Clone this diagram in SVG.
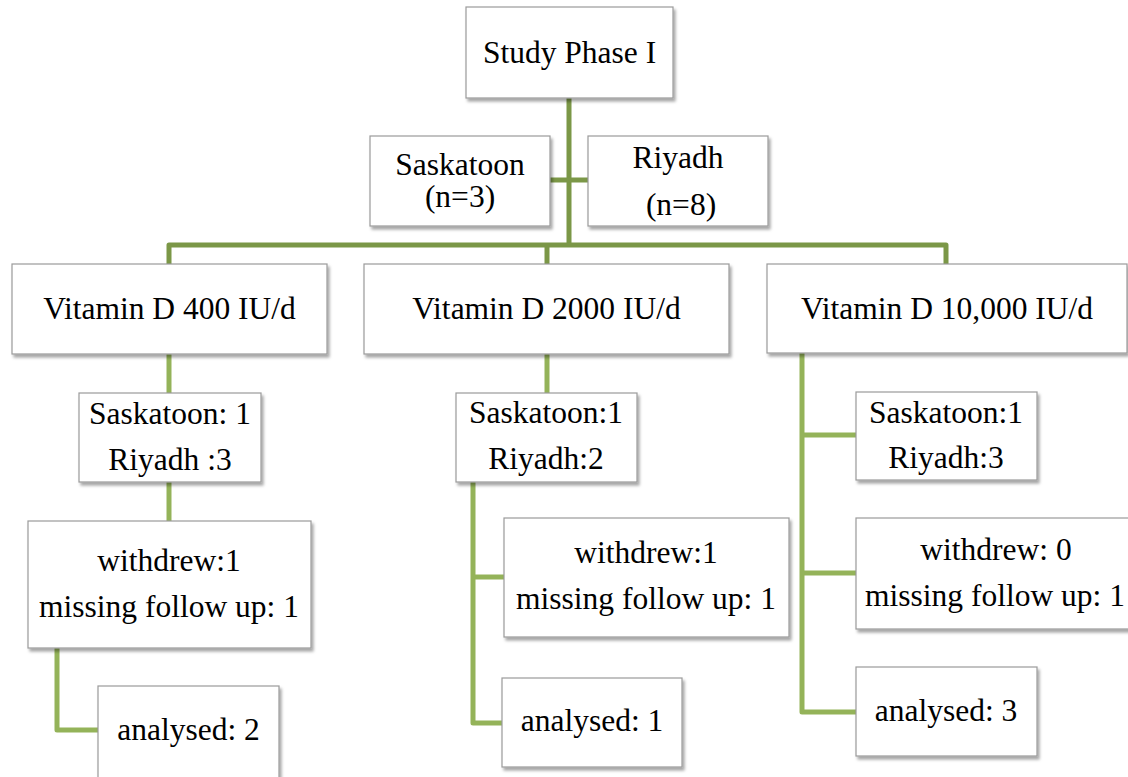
<svg xmlns="http://www.w3.org/2000/svg" width="1128" height="777" viewBox="0 0 1128 777">
<defs>
<filter id="sh" x="-10%" y="-10%" width="130%" height="140%">
<feDropShadow dx="2" dy="3" stdDeviation="1.8" flood-color="#000" flood-opacity="0.35"/>
</filter>
<style>
.box{fill:#fff;stroke:#9a9a9a;stroke-width:1.2;filter:url(#sh)}
.t{font-family:"Liberation Serif","Times New Roman",serif;font-size:31.5px;fill:#000;text-anchor:middle}
.c1{fill:none;stroke:#7b9747;stroke-width:5;stroke-linejoin:round}
.c2{fill:none;stroke:#94b359;stroke-width:5;stroke-linejoin:round}
</style>
</defs>
<rect width="1128" height="777" fill="#fff"/>
<g id="connectors">
<path class="c1" d="M569,98 V245"/>
<path class="c1" d="M550,180 H588"/>
<path class="c1" d="M169,264 V245 H946 V264"/>
<path class="c1" d="M547,245 V264"/>
<path class="c2" d="M169,354 V393"/>
<path class="c2" d="M169,482 V521"/>
<path class="c2" d="M57,648 V730 H98"/>
<path class="c2" d="M547,354 V393"/>
<path class="c2" d="M473,482 V723 H502"/>
<path class="c2" d="M473,577 H504"/>
<path class="c2" d="M802,353 V712 H856"/>
<path class="c2" d="M802,435 H856"/>
<path class="c2" d="M802,573 H856"/>
</g>
<g id="study"><rect class="box" x="466" y="7" width="207" height="91"/><text class="t" x="569.5" y="63">Study Phase I</text></g>
<g id="saskatoon"><rect class="box" x="370" y="136" width="180" height="90"/><text class="t" x="460" y="175">Saskatoon</text><text class="t" x="460" y="207">(n=3)</text></g>
<g id="riyadh"><rect class="box" x="588" y="136" width="180" height="90"/><text class="t" x="678" y="168">Riyadh</text><text class="t" x="681" y="215">(n=8)</text></g>
<g id="vd400"><rect class="box" x="12" y="264" width="315" height="90"/><text class="t" x="169.5" y="319">Vitamin D 400 IU/d</text></g>
<g id="vd2000"><rect class="box" x="364" y="264" width="365" height="90"/><text class="t" x="546.5" y="319">Vitamin D 2000 IU/d</text></g>
<g id="vd10000"><rect class="box" x="767" y="264" width="360" height="89"/><text class="t" x="947" y="319">Vitamin D 10,000 IU/d</text></g>
<g id="site400"><rect class="box" x="79" y="393" width="182" height="89"/><text class="t" x="170" y="424">Saskatoon: 1</text><text class="t" x="170" y="470">Riyadh :3</text></g>
<g id="site2000"><rect class="box" x="456" y="393" width="181" height="89"/><text class="t" x="546" y="423">Saskatoon:1</text><text class="t" x="546" y="469">Riyadh:2</text></g>
<g id="site10000"><rect class="box" x="856" y="392" width="181" height="88"/><text class="t" x="946" y="423">Saskatoon:1</text><text class="t" x="946" y="468">Riyadh:3</text></g>
<g id="wd400"><rect class="box" x="28" y="521" width="283" height="127"/><text class="t" x="169" y="571">withdrew:1</text><text class="t" x="169" y="617">missing follow up: 1</text></g>
<g id="wd2000"><rect class="box" x="504" y="518" width="285" height="119"/><text class="t" x="646" y="563">withdrew:1</text><text class="t" x="646" y="609">missing follow up: 1</text></g>
<g id="wd10000"><rect class="box" x="856" y="518" width="280" height="111"/><text class="t" x="996" y="560">withdrew: 0</text><text class="t" x="995" y="606">missing follow up: 1</text></g>
<g id="an400"><rect class="box" x="98" y="686" width="181" height="92"/><text class="t" x="188.5" y="740">analysed: 2</text></g>
<g id="an2000"><rect class="box" x="502" y="678" width="180" height="89"/><text class="t" x="592" y="731">analysed: 1</text></g>
<g id="an10000"><rect class="box" x="856" y="667" width="181" height="89"/><text class="t" x="946" y="721">analysed: 3</text></g>
</svg>
